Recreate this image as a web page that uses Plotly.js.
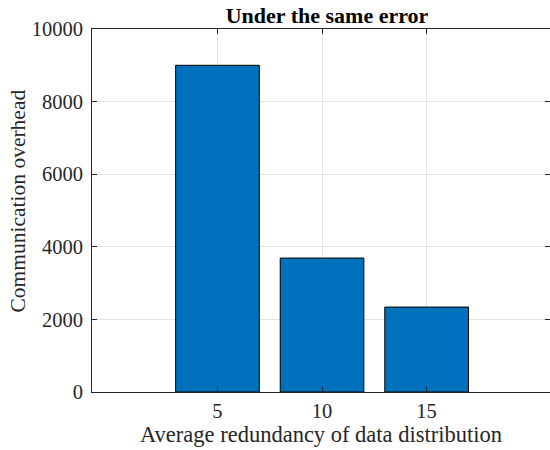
<!DOCTYPE html>
<html>
<head>
<meta charset="utf-8">
<script src="https://cdn.plot.ly/plotly-3.0.1.min.js"></script>
<style>html,body{margin:0;padding:0;background:#fff;}#chart{width:550px;height:450px;}</style>
</head>
<body>
<div id="chart"></div>
<script>
const redundancy = [5, 10, 15];
const overhead = [9000, 3690, 2340];
const xTicks = [5, 10, 15];
const yTicks = [0, 2000, 4000, 6000, 8000, 10000];
const titleText = "Under the same error";
const xTitle = "Average redundancy of data distribution";
const yTitle = "Communication overhead";

const font = "Liberation Serif";
const axisCol = "#262626";

const traces = [{
  type: "bar",
  x: redundancy,
  y: overhead,
  width: 4,
  marker: {color: "#0072BD", line: {color: "#000000", width: 1}},
  hoverinfo: "skip"
}, {
  type: "scatter", x: [0], y: [0], yaxis: "y2", mode: "markers",
  marker: {opacity: 0}, hoverinfo: "skip", showlegend: false
}];

const layout = {
  width: 550, height: 450,
  margin: {l: 92, r: 0, t: 29, b: 58, pad: 0},
  paper_bgcolor: "#ffffff", plot_bgcolor: "#ffffff",
  showlegend: false,
  font: {family: font, color: axisCol, size: 20},
  title: {text: "<b>" + titleText + "</b>", font: {family: font, size: 22, color: "#000"},
          x: 327/550, xanchor: "center", y: 1 - 15/450, yanchor: "middle"},
  xaxis: {
    range: [-1, 20.9], tickvals: xTicks, ticktext: xTicks.map(String),
    ticks: "inside", ticklen: 5, tickcolor: axisCol,
    showline: true, linecolor: axisCol, linewidth: 1, mirror: "ticks",
    showgrid: true, gridcolor: "#e3e3e3", gridwidth: 1, zeroline: false,
    tickfont: {family: font, size: 20.5, color: axisCol},
    title: {text: xTitle, font: {family: font, size: 22.5, color: axisCol}, standoff: 3}
  },
  yaxis: {
    range: [0, 10000], tickvals: yTicks, ticktext: yTicks.map(String),
    ticks: "inside", ticklen: 5, tickcolor: axisCol,
    showline: true, linecolor: axisCol, linewidth: 1,
    showgrid: true, gridcolor: "#e3e3e3", gridwidth: 1, zeroline: false,
    tickfont: {family: font, size: 20.5, color: axisCol},
    ticklabelstandoff: 4,
    title: {text: ""}
  },
  yaxis2: {
    overlaying: "y", side: "right", range: [0, 10000], tickvals: yTicks,
    ticks: "inside", ticklen: 5, tickcolor: axisCol, showticklabels: false,
    showline: false, showgrid: false, zeroline: false
  },
  annotations: [{
    text: yTitle, textangle: -90, xref: "paper", yref: "paper",
    x: -75/458, xanchor: "center", y: (392 - 201.5)/363, yanchor: "middle",
    showarrow: false, font: {family: font, size: 21.5, color: axisCol}
  }]
};

Plotly.newPlot("chart", traces, layout, {staticPlot: true, displayModeBar: false});
</script>
</body>
</html>
